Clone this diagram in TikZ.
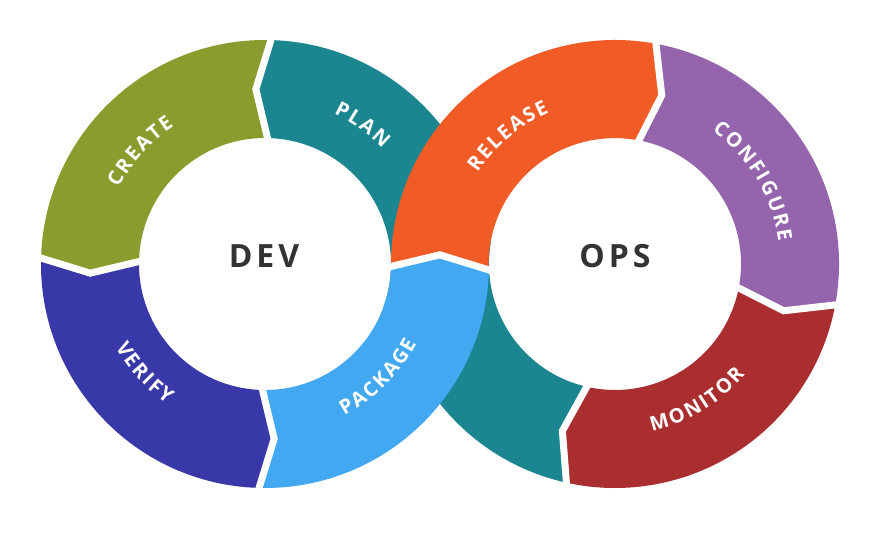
\documentclass[tikz,border=0pt]{standalone}
\usepackage{fontspec}
\setmainfont{Open Sans}
\usepackage{tikz}
\usetikzlibrary{decorations.text}

\definecolor{tealband}{HTML}{1B8690}
\definecolor{createcol}{HTML}{8A9C2D}
\definecolor{verifycol}{HTML}{3838A8}
\definecolor{packagecol}{HTML}{42A8F2}
\definecolor{releasecol}{HTML}{F15C26}
\definecolor{configcol}{HTML}{9464AC}
\definecolor{monitorcol}{HTML}{AA2E30}
\definecolor{hubtext}{HTML}{333333}

\newcommand{\bandfont}{\bfseries\fontsize{20pt}{20pt}\selectfont}

% one piece of a ring: from angle, to angle, tip shift, colour
\newcommand{\ringpart}[4]{%
  \fill[#4] (#1:224pt) -- ({#1+#3}:175pt) -- (#1:126pt)
    arc[start angle=#1, end angle=#2, radius=126pt]
    -- ({#2+#3}:175pt) -- (#2:224pt)
    arc[start angle=#2, end angle=#1, radius=224pt] -- cycle;}
% curved label: from angle, to angle, radius, text
\newcommand{\ringlabel}[4]{%
  \path[decorate, decoration={text along path, text={|\bandfont|#4},
    text align=center, text color=white}]
    (#1:#3) arc[start angle=#1, end angle=#2, radius=#3];}

\begin{document}
\begin{tikzpicture}[x=1pt,y=1pt,
  gap/.style={white,line width=7pt},
  hub/.style={anchor=base,text=hubtext,font=\bfseries\fontsize{32pt}{32pt}\selectfont}]
\fill[white] (0,0) rectangle (880,533);
\useasboundingbox (0,0) rectangle (880,533);
\coordinate (devc) at (265,269);
\coordinate (opsc) at (615,269);

% bands that pass underneath
\begin{scope}[shift={(devc)}]
  \ringpart{-20}{88}{5}{tealband}
\end{scope}
\begin{scope}[shift={(opsc)}]
  \ringpart{258}{170}{-5.5}{tealband}
\end{scope}

% dev ring
\begin{scope}[shift={(devc)}]
  \ringpart{88}{178}{5}{createcol}
  \ringpart{178}{268}{5}{verifycol}
  \ringpart{268}{358}{5}{packagecol}
\end{scope}

% ops ring
\fill[releasecol] ([shift={(devc)}]-2:126pt) -- ([shift={(devc)}]3:175pt) -- ([shift={(devc)}]-2:224pt)
  arc[start angle=183.5, end angle=80, radius=126pt]
  -- ([shift={(opsc)}]74.5:175pt) -- ([shift={(opsc)}]80:224pt)
  arc[start angle=80, end angle=181.1, radius=224pt] -- cycle;
\begin{scope}[shift={(opsc)}]
  \ringpart{80}{-10}{-5.5}{configcol}
  \ringpart{-10}{-102}{-5.5}{monitorcol}
\end{scope}

% white gaps
\begin{scope}[shift={(devc)}]
  \foreach \a in {88,178,268}
    \draw[gap] (\a:231pt) -- ({\a+5}:175pt) -- (\a:119pt);
  \draw[gap] (-2:119pt) -- (3:175pt) -- (-2:231pt);
\end{scope}
\begin{scope}[shift={(opsc)}]
  \foreach \a in {80,-10,258}
    \draw[gap] (\a:231pt) -- ({\a-5.5}:175pt) -- (\a:119pt);
\end{scope}

% labels
\begin{scope}[shift={(devc)}]
  \ringlabel{90}{20}{165pt}{{P\kern2pt}{L\kern2pt}{A\kern2pt}N}
  \ringlabel{173}{103}{165pt}{{C\kern2pt}{R\kern2pt}{E\kern2pt}{A\kern2pt}{T\kern2pt}E}
  \ringlabel{187}{257}{171pt}{{V\kern2pt}{E\kern2pt}{R\kern2pt}{I\kern2pt}{F\kern2pt}Y}
  \ringlabel{280}{350}{171pt}{{P\kern2pt}{A\kern2pt}{C\kern2pt}{K\kern2pt}{A\kern2pt}{G\kern2pt}E}
\end{scope}
\begin{scope}[shift={(opsc)}]
  \ringlabel{165}{95}{165pt}{{R\kern2pt}{E\kern2pt}{L\kern2pt}{E\kern2pt}{A\kern2pt}{S\kern2pt}E}
  \ringlabel{66}{-4}{165pt}{{C\kern2pt}{O\kern2pt}{N\kern2pt}{F\kern2pt}{I\kern2pt}{G\kern2pt}{U\kern2pt}{R\kern2pt}E}
  \ringlabel{266}{336}{171pt}{{M\kern2pt}{O\kern2pt}{N\kern2pt}{I\kern2pt}{T\kern2pt}{O\kern2pt}R}
\end{scope}

\node[hub] (dev) at (264,265) {D\kern4pt E\kern4pt V};
\node[hub] (ops) at (615,265) {O\kern4pt P\kern4pt S};
\end{tikzpicture}
\end{document}
